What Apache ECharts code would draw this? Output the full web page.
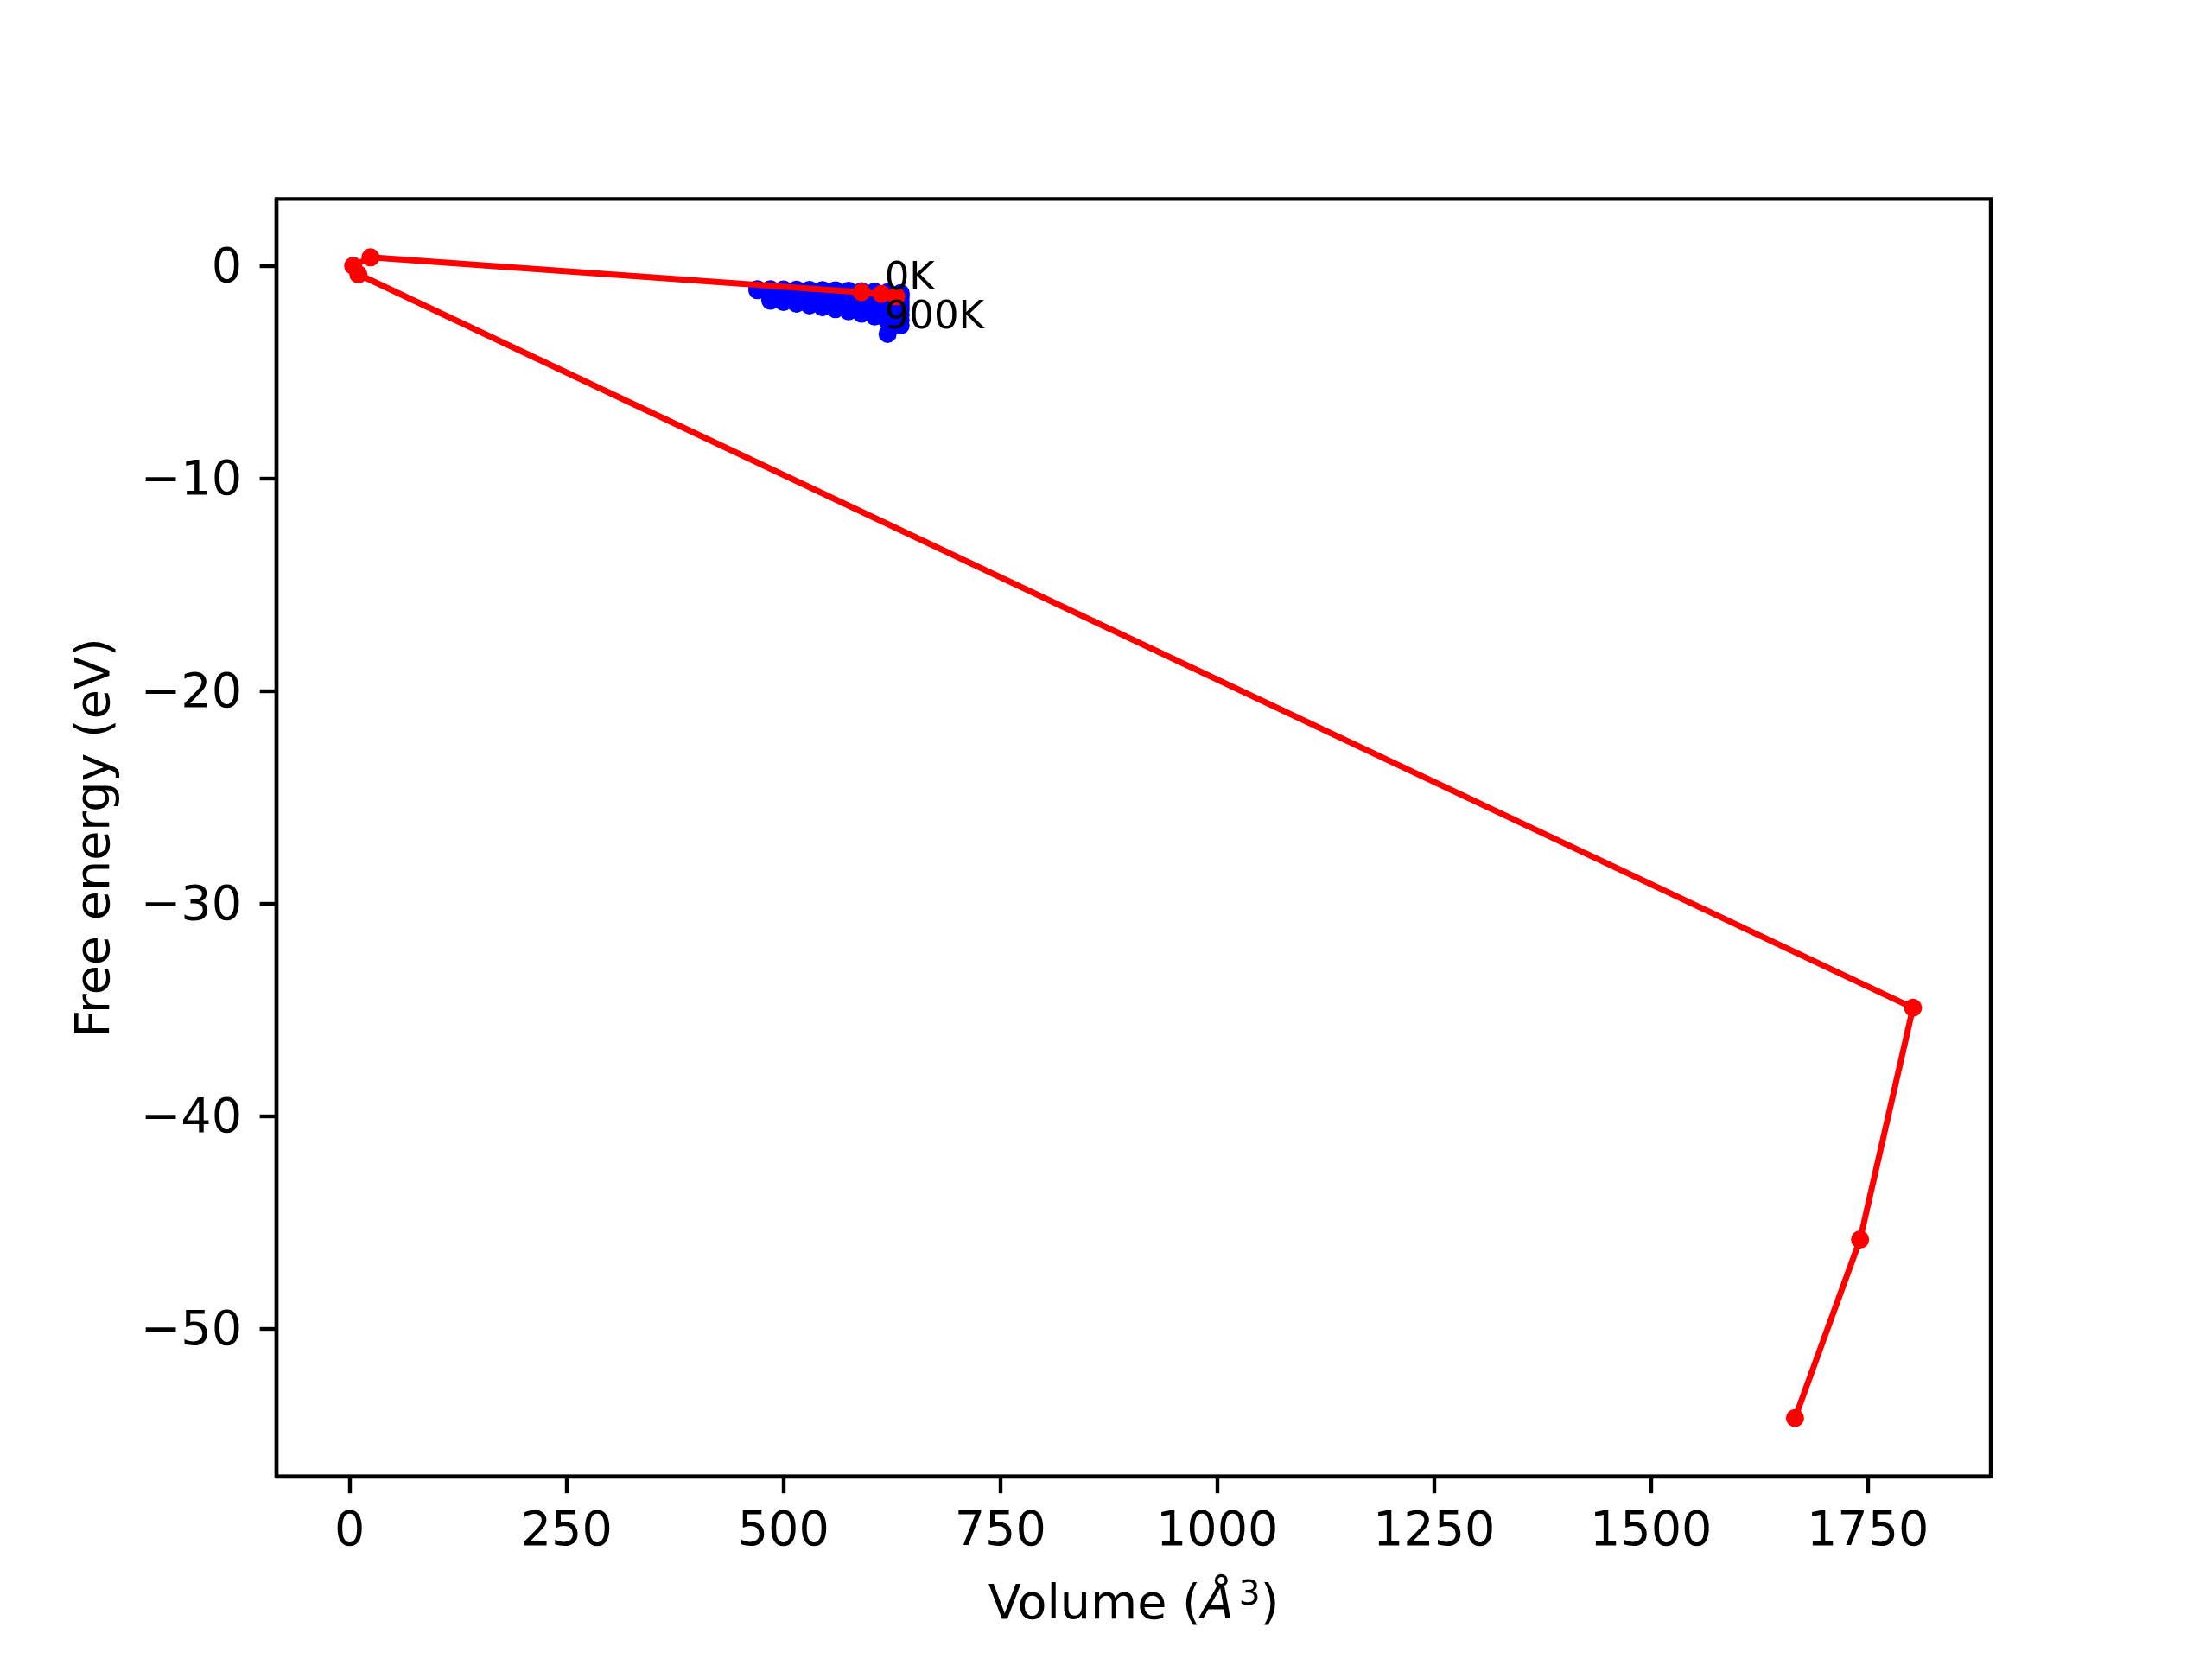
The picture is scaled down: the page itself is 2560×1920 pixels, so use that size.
<!DOCTYPE html>
<html>
<head>
<meta charset="utf-8">
<script src="https://cdn.jsdelivr.net/npm/echarts@6/dist/echarts.min.js"></script>
<style>html,body{margin:0;padding:0;background:#fff;}#c{width:2560px;height:1920px;}</style>
</head>
<body>
<div id="c"></div>
<script>
// ---- data ----
const xTicks = [0, 250, 500, 750, 1000, 1250, 1500, 1750];
const yTicks = [-50, -40, -30, -20, -10, 0];

// blue points: free energy vs volume per temperature (0K .. 900K)
const blueVolumes = [470, 485, 500, 515, 530, 545, 560, 575, 590, 605, 620, 635];
const blueT0   = [-1.10,-1.10,-1.11,-1.12,-1.13,-1.14,-1.15,-1.17,-1.19,-1.21,-1.24,-1.28];
const blueT100 = [-1.14,-1.15,-1.16,-1.17,-1.18,-1.20,-1.22,-1.24,-1.26,-1.29,-1.33,-1.38];
const blueT200 = [null,-1.22,-1.23,-1.25,-1.27,-1.29,-1.31,-1.34,-1.37,-1.41,-1.46,-1.52];
const blueT300 = [null,-1.29,-1.31,-1.33,-1.36,-1.39,-1.42,-1.46,-1.50,-1.55,-1.61,-1.70];
const blueT400 = [null,-1.36,-1.39,-1.42,-1.45,-1.49,-1.53,-1.58,-1.63,-1.69,-1.77,-1.88];
const blueT500 = [null,-1.43,-1.46,-1.50,-1.54,-1.59,-1.64,-1.69,-1.75,-1.83,-1.93,-2.07];
const blueT600 = [null,-1.49,-1.53,-1.58,-1.63,-1.68,-1.74,-1.80,-1.87,-1.96,-2.10,-2.30];
const blueT700 = [null,-1.54,-1.59,-1.65,-1.71,-1.77,-1.84,-1.91,-1.99,-2.09,-2.30,-2.55];
const blueT800 = [null,-1.59,-1.65,-1.72,-1.79,-1.86,-1.94,-2.02,-2.11,-2.22,-2.60,-2.80];
const blueT900 = [null,-1.64,-1.70,-1.78,-1.86,-1.95,-2.04,-2.14,-2.25,-2.38,-3.20,null];
const blueRows = [blueT0, blueT100, blueT200, blueT300, blueT400, blueT500, blueT600, blueT700, blueT800, blueT900];

// red path
const redVolumes = [630, 613, 590, 24, 4, 10, 1802, 1741, 1666];
const redEnergies = [-1.44, -1.32, -1.24, 0.40, 0.0, -0.40, -34.9, -45.8, -54.2];

// annotations
const labelTexts = ['0K', '900K'];
const labelVolumes = [617, 617];
const labelEnergies = [-1.2, -3.03];

// ---- build ----
const bluePts = [];
blueRows.forEach(row => row.forEach((f, i) => { if (f !== null) bluePts.push([blueVolumes[i], f]); }));
const redPts = redVolumes.map((v, i) => [v, redEnergies[i]]);
const labelPts = labelTexts.map((t, i) => [labelVolumes[i], labelEnergies[i], t]);

const FONT = 'DejaVu Sans';
const FS = 55.6;
const fmt = v => (v < 0 ? '\u2212' + Math.abs(v) : String(v));

const chart = echarts.init(document.getElementById('c'), null, {renderer: 'canvas'});
chart.setOption({
  backgroundColor: '#ffffff',
  animation: false,
  grid: {left: 320, top: 230.4, width: 1984, height: 1478.4, show: true, borderColor: '#000', borderWidth: 4.4, backgroundColor: 'transparent'},
  xAxis: {
    type: 'value', min: -84.4, max: 1891.7,
    splitLine: {show: false},
    axisLine: {show: true, onZero: false, lineStyle: {color: '#000', width: 4.4}},
    axisTick: {show: true, customValues: xTicks, length: 19.4, lineStyle: {color: '#000', width: 4.4}},
    axisLabel: {customValues: xTicks, formatter: fmt, color: '#000', fontFamily: FONT, fontSize: FS, margin: 37},
    name: '{a|Volume (}{i|Å}{s|3}{a|)}',
    nameLocation: 'middle', nameGap: 119,
    nameTextStyle: {
      rich: {
        a: {fontFamily: FONT, fontSize: FS, color: '#000'},
        i: {fontFamily: FONT, fontSize: FS, fontStyle: 'italic', color: '#000'},
        s: {fontFamily: FONT, fontSize: 39, color: '#000', verticalAlign: 'top', padding: [0, 0, 22, 6]}
      }
    }
  },
  yAxis: {
    type: 'value', min: -56.95, max: 3.14,
    splitLine: {show: false},
    axisLine: {show: true, onZero: false, lineStyle: {color: '#000', width: 4.4}},
    axisTick: {show: true, customValues: yTicks, length: 19.4, lineStyle: {color: '#000', width: 4.4}},
    axisLabel: {customValues: yTicks, formatter: v => '{v|' + fmt(v) + '}', margin: 40,
      rich: {v: {color: '#000', fontFamily: FONT, fontSize: FS, padding: [7, 0, 0, 0]}}},
    name: 'Free energy (eV)',
    nameLocation: 'middle', nameGap: 180,
    nameTextStyle: {fontFamily: FONT, fontSize: FS, color: '#000'}
  },
  series: [
    {
      type: 'scatter', data: bluePts, symbol: 'circle', symbolSize: 21,
      itemStyle: {color: '#0000ff', opacity: 1}, z: 2
    },
    {
      type: 'line', data: redPts, symbol: 'circle', symbolSize: 21, showSymbol: true,
      lineStyle: {color: '#ff0000', width: 7}, itemStyle: {color: '#ff0000'}, z: 3
    },
    {
      type: 'scatter', data: labelPts, symbolSize: 1, itemStyle: {color: 'rgba(0,0,0,0)'}, z: 4,
      label: {show: true, position: [0, 0], align: 'left', verticalAlign: 'bottom', offset: [0, 9],
        formatter: p => p.value[2], color: '#000', opacity: 1, fontFamily: FONT, fontSize: 45}
    }
  ]
});
</script>
</body>
</html>
